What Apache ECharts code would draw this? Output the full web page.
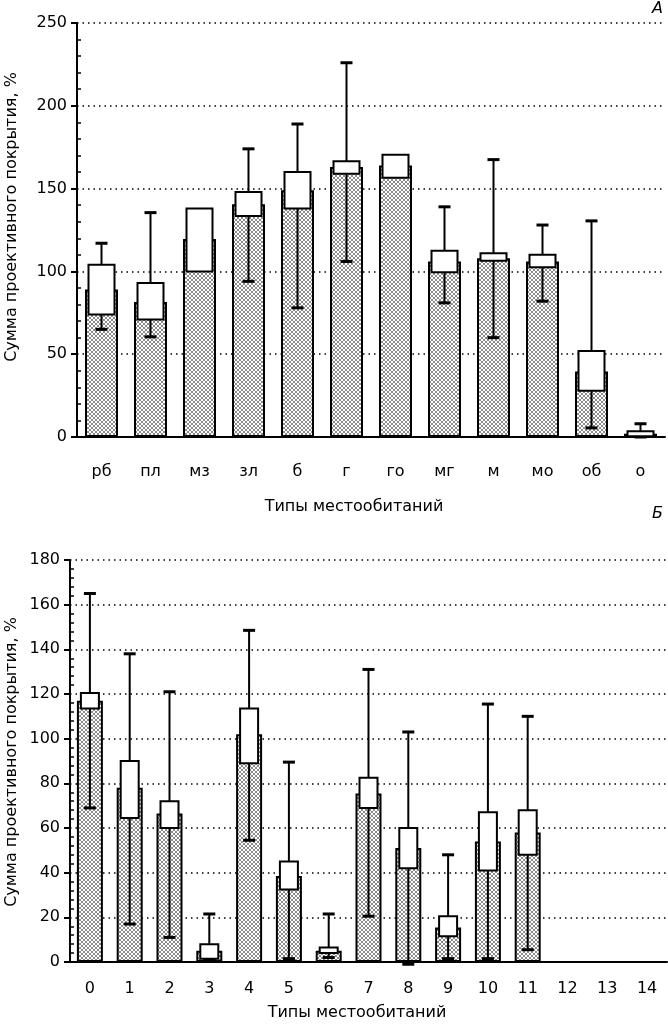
<!DOCTYPE html>
<html lang="ru">
<head>
    <meta charset="UTF-8">
    <title>Сумма проективного покрытия</title>
    <script src="https://cdn.jsdelivr.net/npm/echarts@6/dist/echarts.min.js"></script>
    <style>
        html, body { margin: 0; padding: 0; background: #fff; }
        #main { width: 668px; height: 1024px; }
    </style>
</head>
<body>
<div id="main"></div>
<script type="text/javascript">
    // --- панель А ---
    var catsA = ['рб', 'пл', 'мз', 'зл', 'б', 'г', 'го', 'мг', 'м', 'мо', 'об', 'о'];
    var meanA = [89, 81.5, 119.5, 140.5, 149, 163, 164, 106, 108, 106, 39.5, 2];
    var boxLoA = [74, 71, 100, 133.5, 138, 159, 156.5, 99.5, 106.5, 102.5, 28, 0.5];
    var boxHiA = [104, 93, 138, 148, 160, 166.5, 170.5, 112.5, 111, 110, 52, 3.5];
    var whiskLoA = [65, 60.5, null, 94, 78, 106, null, 81, 60, 82, 5.5, 0];
    var whiskHiA = [117, 135.5, null, 174, 189, 226, null, 139, 167.5, 128, 130.5, 8];

    // --- панель Б ---
    var catsB = ['0', '1', '2', '3', '4', '5', '6', '7', '8', '9', '10', '11', '12', '13', '14'];
    var meanB = [117, 78, 66.5, 5, 102, 38.5, 5, 75.5, 51, 15.5, 54, 58, null, null, null];
    var boxLoB = [113.5, 64.5, 60, 1.5, 89, 32.5, 4, 69, 42, 11.5, 41, 48];
    var boxHiB = [120.5, 90, 72, 8, 113.5, 45, 6.5, 82.5, 60, 20.5, 67, 68];
    var whiskLoB = [69, 17, 11, 1.5, 54.5, 1.5, 2, 20.5, -1, 1.5, 1.5, 5.5];
    var whiskHiB = [165, 138, 121, 21.5, 148.5, 89.5, 21.5, 131, 103, 48, 115.5, 110];

    var font = 'DejaVu Sans';

    // серая штриховка столбиков
    var hatch = document.createElement('canvas');
    hatch.width = 4;
    hatch.height = 4;
    var hctx = hatch.getContext('2d');
    hctx.fillStyle = '#fff';
    hctx.fillRect(0, 0, 4, 4);
    hctx.fillStyle = '#8c8c8c';
    [[0, 0], [1, 1], [2, 2], [3, 3], [3, 0], [2, 1], [1, 2], [0, 3]].forEach(function (p) {
        hctx.fillRect(p[0], p[1], 1, 1);
    });

    function pairs(lo, hi) {
        var out = [];
        for (var i = 0; i < lo.length; i++) {
            if (lo[i] != null && hi[i] != null) out.push([i, lo[i], hi[i]]);
        }
        return out;
    }

    function whiskerItem(capW) {
        return function (params, api) {
            var lo = api.coord([api.value(0), api.value(1)]);
            var hi = api.coord([api.value(0), api.value(2)]);
            var h = capW / 2;
            return {
                type: 'group',
                children: [
                    {type: 'line', shape: {x1: lo[0], y1: lo[1], x2: hi[0], y2: hi[1]},
                        style: {stroke: '#000', lineWidth: 2}},
                    {type: 'line', shape: {x1: hi[0] - h, y1: hi[1], x2: hi[0] + h, y2: hi[1]},
                        style: {stroke: '#000', lineWidth: 3}},
                    {type: 'line', shape: {x1: lo[0] - h, y1: lo[1], x2: lo[0] + h, y2: lo[1]},
                        style: {stroke: '#000', lineWidth: 3}}
                ]
            };
        };
    }

    function boxItem(w) {
        return function (params, api) {
            var lo = api.coord([api.value(0), api.value(1)]);
            var hi = api.coord([api.value(0), api.value(2)]);
            return {
                type: 'rect',
                shape: {x: lo[0] - w / 2, y: hi[1], width: w, height: lo[1] - hi[1]},
                style: {fill: '#fff', stroke: '#000', lineWidth: 2}
            };
        };
    }

    function catAxis(grid, data, margin) {
        return {
            type: 'category', gridIndex: grid, position: 'bottom', data: data,
            axisLine: {lineStyle: {color: '#000', width: 2}},
            axisTick: {length: 6, lineStyle: {color: '#000', width: 2}},
            axisLabel: {color: '#000', fontFamily: font, fontSize: 16, margin: margin}
        };
    }

    function catTicksInside(grid, data) {
        return {
            type: 'category', gridIndex: grid, position: 'bottom', data: data,
            axisLine: {show: false}, axisLabel: {show: false},
            axisTick: {inside: true, length: 6, lineStyle: {color: '#000', width: 2}}
        };
    }

    function valAxis(grid, max, step) {
        return {
            type: 'value', gridIndex: grid, position: 'left', min: 0, max: max, interval: step,
            axisLine: {show: true, lineStyle: {color: '#000', width: 2}},
            axisTick: {show: true, length: 6, lineStyle: {color: '#000', width: 2}},
            axisLabel: {color: '#000', fontFamily: font, fontSize: 16, margin: 10},
            splitLine: {show: true, lineStyle: {color: '#000', width: 1.5, type: [1.5, 4]}}
        };
    }

    function minorAxis(grid, max, step) {
        return {
            type: 'value', gridIndex: grid, position: 'left', min: 0, max: max, interval: step,
            axisLine: {show: false}, axisLabel: {show: false}, splitLine: {show: false},
            axisTick: {show: false, inside: true},
            minorTick: {show: true, splitNumber: 5, length: 4, lineStyle: {color: '#000', width: 1.5}}
        };
    }

    var myChart = echarts.init(document.getElementById('main'), null, {renderer: 'canvas'});

    var option = {
        backgroundColor: '#fff',
        animation: false,
        grid: [
            {left: 77, right: 3, top: 23, bottom: 587},
            {left: 70, right: 1, top: 560, bottom: 62}
        ],
        xAxis: [
            catAxis(0, catsA, 27),
            catTicksInside(0, catsA),
            catAxis(1, catsB, 19),
            catTicksInside(1, catsB)
        ],
        yAxis: [
            valAxis(0, 250, 50),
            minorAxis(0, 250, 50),
            valAxis(1, 180, 20),
            minorAxis(1, 180, 20)
        ],
        series: [
            {
                type: 'bar', xAxisIndex: 0, yAxisIndex: 0, data: meanA, barWidth: 33, z: 2,
                itemStyle: {color: {image: hatch, repeat: 'repeat'}, borderColor: '#000', borderWidth: 2}
            },
            {
                type: 'custom', xAxisIndex: 0, yAxisIndex: 0, z: 3,
                data: pairs(whiskLoA, whiskHiA), encode: {x: 0, y: [1, 2]},
                renderItem: whiskerItem(12)
            },
            {
                type: 'custom', xAxisIndex: 0, yAxisIndex: 0, z: 4,
                data: pairs(boxLoA, boxHiA), encode: {x: 0, y: [1, 2]},
                renderItem: boxItem(26)
            },
            {
                type: 'bar', xAxisIndex: 2, yAxisIndex: 2, data: meanB, barWidth: 26, z: 2,
                itemStyle: {color: {image: hatch, repeat: 'repeat'}, borderColor: '#000', borderWidth: 2}
            },
            {
                type: 'custom', xAxisIndex: 2, yAxisIndex: 2, z: 3,
                data: pairs(whiskLoB, whiskHiB), encode: {x: 0, y: [1, 2]},
                renderItem: whiskerItem(12)
            },
            {
                type: 'custom', xAxisIndex: 2, yAxisIndex: 2, z: 4,
                data: pairs(boxLoB, boxHiB), encode: {x: 0, y: [1, 2]},
                renderItem: boxItem(18)
            }
        ],
        graphic: [
            {type: 'text', x: 12, y: 217, rotation: Math.PI / 2,
                style: {text: 'Сумма проективного покрытия, %', font: '16px "DejaVu Sans"', fill: '#000',
                    textAlign: 'center', textVerticalAlign: 'middle'}},
            {type: 'text', x: 12, y: 762, rotation: Math.PI / 2,
                style: {text: 'Сумма проективного покрытия, %', font: '16px "DejaVu Sans"', fill: '#000',
                    textAlign: 'center', textVerticalAlign: 'middle'}},
            {type: 'text', x: 354, y: 507,
                style: {text: 'Типы местообитаний', font: '16px "DejaVu Sans"', fill: '#000',
                    textAlign: 'center', textVerticalAlign: 'middle'}},
            {type: 'text', x: 357, y: 1013,
                style: {text: 'Типы местообитаний', font: '16px "DejaVu Sans"', fill: '#000',
                    textAlign: 'center', textVerticalAlign: 'middle'}},
            {type: 'text', x: 663, y: 9,
                style: {text: 'А', font: 'italic 16px "DejaVu Sans"', fill: '#000',
                    textAlign: 'right', textVerticalAlign: 'middle'}},
            {type: 'text', x: 663, y: 514,
                style: {text: 'Б', font: 'italic 16px "DejaVu Sans"', fill: '#000',
                    textAlign: 'right', textVerticalAlign: 'middle'}}
        ]
    };

    myChart.setOption(option);
</script>
</body>
</html>
